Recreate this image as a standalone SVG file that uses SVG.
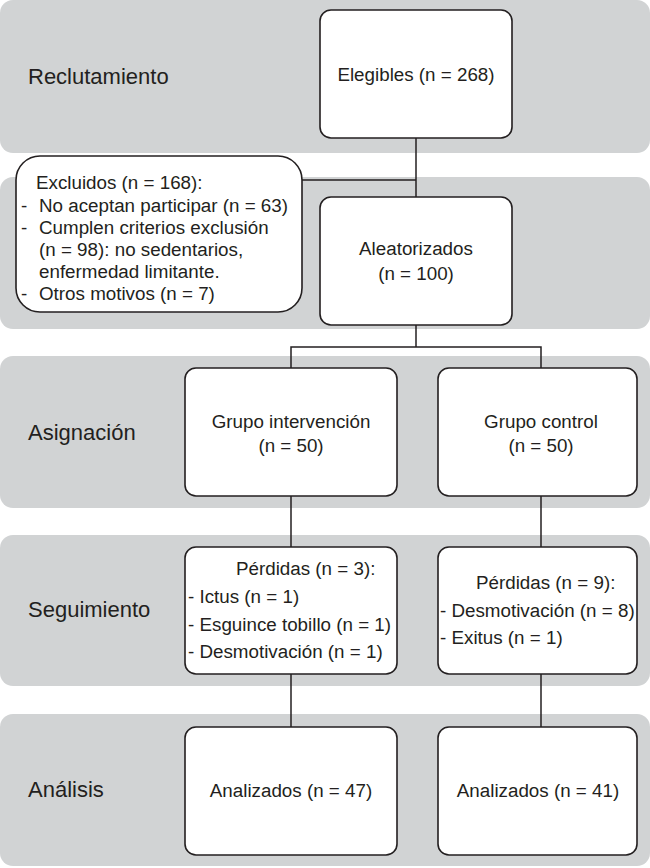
<svg xmlns="http://www.w3.org/2000/svg" width="650" height="868" viewBox="0 0 650 868">
<style>
.band{fill:#d1d3d4;}
.box{fill:#ffffff;stroke:#231f20;stroke-width:1.6;}
.con{stroke:#231f20;stroke-width:1.5;fill:none;}
text{font-family:"Liberation Sans",Arial,Helvetica,sans-serif;fill:#231f20;}
.sec{font-size:22px;}
.t{font-size:18.8px;}
.c{text-anchor:middle;}
</style>
<g id="bands">
<rect class="band" x="0" y="0" width="650" height="153" rx="13"/>
<rect class="band" x="0" y="177" width="650" height="152" rx="13"/>
<rect class="band" x="0" y="356" width="650" height="152" rx="13"/>
<rect class="band" x="0" y="535" width="650" height="151" rx="13"/>
<rect class="band" x="0" y="714" width="650" height="152" rx="13"/>
</g>
<g id="labels">
<text class="sec" x="28" y="84">Reclutamiento</text>
<text class="sec" x="28" y="440">Asignación</text>
<text class="sec" x="28" y="617">Seguimiento</text>
<text class="sec" x="28" y="797">Análisis</text>
</g>
<g id="connectors">
<line class="con" x1="416" y1="138" x2="416" y2="197"/>
<line class="con" x1="302" y1="180" x2="416" y2="180"/>
<polyline class="con" points="416,325 416,347"/>
<polyline class="con" points="291,368 291,347 541,347 541,368"/>
<line class="con" x1="291" y1="496" x2="291" y2="547"/>
<line class="con" x1="541" y1="496" x2="541" y2="547"/>
<line class="con" x1="291" y1="674" x2="291" y2="727"/>
<line class="con" x1="541" y1="674" x2="541" y2="727"/>
</g>
<g id="elegibles">
<rect class="box" x="320" y="10" width="192" height="128" rx="11"/>
<text class="t c" x="416" y="81">Elegibles (n = 268)</text>
</g>
<g id="excluidos">
<rect class="box" x="16" y="156" width="286" height="156" rx="24"/>
<text class="t" x="36" y="189">Excluidos (n = 168):</text>
<text class="t" x="21" y="212">-</text>
<text class="t" x="39" y="212">No aceptan participar (n = 63)</text>
<text class="t" x="21" y="234">-</text>
<text class="t" x="39" y="234">Cumplen criterios exclusión</text>
<text class="t" x="39" y="256">(n = 98): no sedentarios,</text>
<text class="t" x="39" y="278">enfermedad limitante.</text>
<text class="t" x="21" y="300">-</text>
<text class="t" x="39" y="300">Otros motivos (n = 7)</text>
</g>
<g id="aleatorizados">
<rect class="box" x="320" y="197" width="192" height="128" rx="11"/>
<text class="t c" x="416" y="255">Aleatorizados</text>
<text class="t c" x="416" y="280">(n = 100)</text>
</g>
<g id="grupo-intervencion">
<rect class="box" x="185" y="368" width="212" height="128" rx="11"/>
<text class="t c" x="291" y="428">Grupo intervención</text>
<text class="t c" x="291" y="452">(n = 50)</text>
</g>
<g id="grupo-control">
<rect class="box" x="438" y="368" width="199" height="128" rx="11"/>
<text class="t c" x="541" y="428">Grupo control</text>
<text class="t c" x="541" y="452">(n = 50)</text>
</g>
<g id="perdidas-intervencion">
<rect class="box" x="185" y="547" width="212" height="127" rx="11"/>
<text class="t" x="236" y="575">Pérdidas (n = 3):</text>
<text class="t" x="188" y="603">- Ictus (n = 1)</text>
<text class="t" x="188" y="631">- Esguince tobillo (n = 1)</text>
<text class="t" x="188" y="658">- Desmotivación (n = 1)</text>
</g>
<g id="perdidas-control">
<rect class="box" x="438" y="547" width="199" height="127" rx="11"/>
<text class="t" x="476" y="589">Pérdidas (n = 9):</text>
<text class="t" x="440" y="617">- Desmotivación (n = 8)</text>
<text class="t" x="440" y="644">- Exitus (n = 1)</text>
</g>
<g id="analizados-intervencion">
<rect class="box" x="185" y="727" width="212" height="128" rx="11"/>
<text class="t c" x="291" y="797">Analizados (n = 47)</text>
</g>
<g id="analizados-control">
<rect class="box" x="438" y="727" width="199" height="128" rx="11"/>
<text class="t c" x="538" y="797">Analizados (n = 41)</text>
</g>
</svg>
